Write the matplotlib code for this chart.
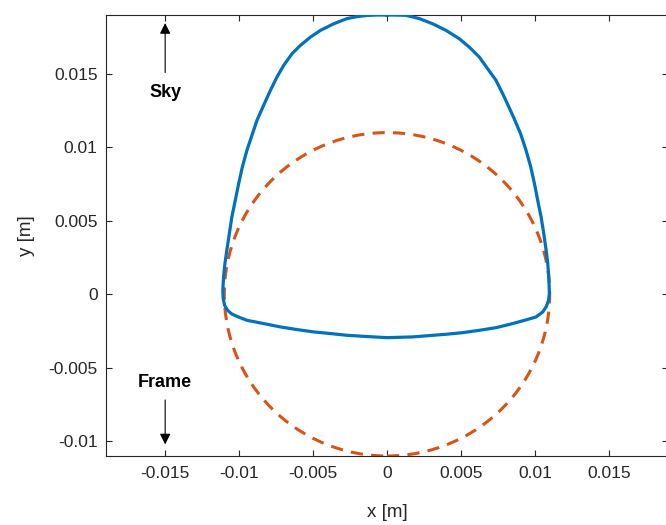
import matplotlib
matplotlib.use("Agg")
import matplotlib.pyplot as plt
from matplotlib.patches import Circle

plt.rcParams['font.family'] = ['Liberation Sans', 'DejaVu Sans']
plt.rcParams['axes.unicode_minus'] = False

# Blue profile (metres), closed loop starting at the top
profile_x = [0.0, -0.00066, -0.00134, -0.00201, -0.00269, -0.00359, -0.00449,
             -0.00517, -0.00585, -0.00642, -0.00698, -0.00744, -0.00788, -0.00834,
             -0.00879, -0.00913, -0.00947, -0.00978, -0.01003, -0.01026, -0.01049,
             -0.01066, -0.01083, -0.01096, -0.01105, -0.01110, -0.01108, -0.01098,
             -0.01078, -0.01051, -0.01015, -0.00947, -0.00834, -0.00721, -0.00608,
             -0.00495, -0.00382, -0.00269, -0.00156, 0.0, 0.00172, 0.00285,
             0.00398, 0.00511, 0.00624, 0.00737, 0.00850, 0.00940, 0.01008,
             0.01053, 0.01078, 0.01092, 0.01098, 0.01094, 0.01087, 0.01076,
             0.01060, 0.01042, 0.01019, 0.00997, 0.00972, 0.00940, 0.00903,
             0.00855, 0.00793, 0.00737, 0.00680, 0.00624, 0.00556, 0.00488,
             0.00398, 0.00307, 0.00217, 0.00127, 0.00036, 0.0]
profile_y = [0.01900, 0.01900, 0.01897, 0.01889, 0.01876, 0.01841, 0.01796,
             0.01750, 0.01694, 0.01637, 0.01558, 0.01478, 0.01388, 0.01286,
             0.01184, 0.01082, 0.00980, 0.00866, 0.00753, 0.00639, 0.00526,
             0.00413, 0.00299, 0.00209, 0.00118, 0.00027, -0.00027, -0.00075,
             -0.00109, -0.00133, -0.00150, -0.00177, -0.00199, -0.00222, -0.00240,
             -0.00256, -0.00267, -0.00279, -0.00286, -0.00295, -0.00290, -0.00281,
             -0.00272, -0.00261, -0.00245, -0.00227, -0.00199, -0.00174, -0.00154,
             -0.00120, -0.00082, -0.00041, 0.00007, 0.00118, 0.00209, 0.00299,
             0.00413, 0.00526, 0.00639, 0.00753, 0.00866, 0.00980, 0.01093,
             0.01206, 0.01342, 0.01456, 0.01535, 0.01614, 0.01682, 0.01739,
             0.01796, 0.01841, 0.01876, 0.01898, 0.01900, 0.01900]

# Reference circle
circle_radius = 0.011

x_ticks = [-0.015, -0.01, -0.005, 0, 0.005, 0.01, 0.015]
x_tick_labels = ['-0.015', '-0.01', '-0.005', '0', '0.005', '0.01', '0.015']
y_ticks = [-0.01, -0.005, 0, 0.005, 0.01, 0.015]
y_tick_labels = ['-0.01', '-0.005', '0', '0.005', '0.01', '0.015']

blue = '#0072BD'
orange = '#D95319'
axis_gray = '#262626'

fig = plt.figure(figsize=(6.66, 5.25), dpi=100)
ax = fig.add_axes([106 / 666, 69 / 525, 562 / 666, 441 / 525])

ax.plot(profile_x, profile_y, color=blue, lw=2.3, solid_joinstyle='round', zorder=3)
ax.add_patch(Circle((0, 0), circle_radius, fill=False, edgecolor=orange, lw=2.2,
                    linestyle=(0, (4, 2.7)), zorder=2))

ax.set_xlim(-0.019, 0.019)
ax.set_ylim(-0.011, 0.019)

ax.set_xticks(x_ticks)
ax.set_xticklabels(x_tick_labels)
ax.set_yticks(y_ticks)
ax.set_yticklabels(y_tick_labels)
ax.tick_params(direction='in', length=4, width=0.8, colors=axis_gray,
               labelsize=12.5, top=True, right=True)
ax.tick_params(axis='x', pad=7)
ax.tick_params(axis='y', pad=6)
for s in ax.spines.values():
    s.set_color(axis_gray)
    s.set_linewidth(0.8)

ax.set_xlabel('x [m]', fontsize=13.5, color=axis_gray, labelpad=17)
ax.set_ylabel('y [m]', fontsize=13.5, color=axis_gray, labelpad=10)

# Direction markers
ax.annotate('', xy=(-0.015, 0.01864), xytext=(-0.015, 0.0149),
            arrowprops=dict(arrowstyle='-|>', color='k', lw=0.8, mutation_scale=16))
ax.text(-0.015, 0.01370, 'Sky', ha='center', va='center', fontsize=13, fontweight='bold')
ax.annotate('', xy=(-0.015, -0.01040), xytext=(-0.015, -0.0070),
            arrowprops=dict(arrowstyle='-|>', color='k', lw=0.8, mutation_scale=16))
ax.text(-0.015, -0.00600, 'Frame', ha='center', va='center', fontsize=13, fontweight='bold')

fig.savefig('out.png', dpi=100)
